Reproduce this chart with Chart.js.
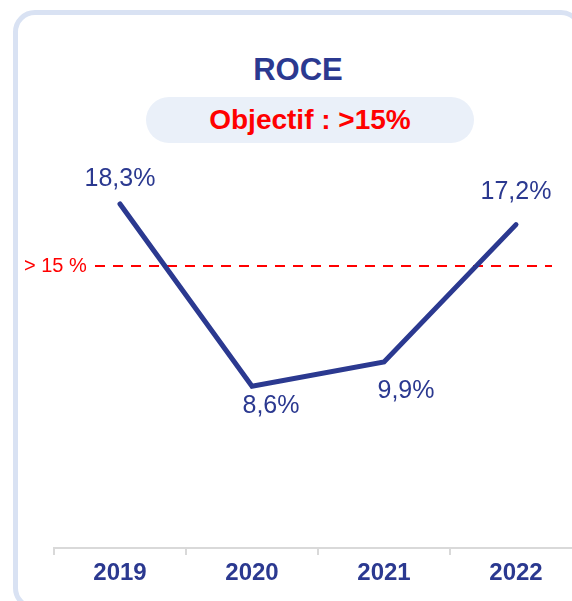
<!DOCTYPE html>
<html>
<head>
<meta charset="utf-8">
<script src="https://cdn.jsdelivr.net/npm/chart.js@4.4.0/dist/chart.umd.min.js"></script>
<style>
  html, body { margin:0; padding:0; background:#fff; }
  body { width:572px; height:601px; overflow:hidden; position:relative; font-family:"Liberation Sans", Arial, sans-serif; }
  #card {
    position:absolute; left:13px; top:10px; width:570px; height:600px;
    border:5px solid #d9e2f3; border-radius:22px; box-sizing:border-box;
  }
  #title {
    position:absolute; left:298px; top:52px; transform:translateX(-50%);
    font-weight:bold; font-size:31px; line-height:36px; color:#2b3990; white-space:nowrap;
  }
  #goal {
    position:absolute; left:146px; top:97px; width:328px; height:46px; border-radius:23px;
    background:#eaf0f9; color:#ff0000; font-weight:bold; font-size:28px; line-height:46px; text-align:center;
  }
  #chart { position:absolute; left:0; top:0; }
</style>
</head>
<body>
<div id="card"></div>
<div id="title">ROCE</div>
<div id="goal">Objectif : &gt;15%</div>
<canvas id="chart" width="600" height="601"></canvas>

<script>
// ================= DATA =================
const years = ["2019", "2020", "2021", "2022"];
const roce = [18.3, 8.6, 9.9, 17.2];
const roceLabels = ["18,3%", "8,6%", "9,9%", "17,2%"];
const target = 15;
const targetLabel = "> 15 %";

const blue = "#2b3990";
const red = "#ff0000";

// label offsets from each point (x, y)
const labelShift = [[0, -25], [19, 20], [22, 29], [0, -33]];

// ================= PLUGINS =================
const targetLine = {
  id: "targetLine",
  beforeDatasetsDraw(chart){
    const ctx = chart.ctx;
    const y = chart.scales.y.getPixelForValue(target);
    ctx.save();
    ctx.strokeStyle = red;
    ctx.lineWidth = 2;
    ctx.setLineDash([10, 8]);
    ctx.beginPath();
    ctx.moveTo(95, y);
    ctx.lineTo(552, y);
    ctx.stroke();
    ctx.setLineDash([]);
    ctx.fillStyle = red;
    ctx.font = "20px 'Liberation Sans', Arial, sans-serif";
    ctx.textAlign = "left";
    ctx.textBaseline = "middle";
    ctx.fillText(targetLabel, 24, y);
    ctx.restore();
  }
};

const valueLabels = {
  id: "valueLabels",
  afterDatasetsDraw(chart){
    const ctx = chart.ctx;
    const pts = chart.getDatasetMeta(0).data;
    ctx.save();
    ctx.fillStyle = blue;
    ctx.font = "25px 'Liberation Sans', Arial, sans-serif";
    ctx.textAlign = "center";
    ctx.textBaseline = "middle";
    pts.forEach((p, i) => {
      ctx.fillText(roceLabels[i], p.x + labelShift[i][0], p.y + labelShift[i][1]);
    });
    ctx.restore();
  }
};

// ================= CHART =================
new Chart(document.getElementById("chart"), {
  type: "line",
  data: {
    labels: years,
    datasets: [{
      data: roce,
      borderColor: blue,
      borderWidth: 5,
      borderCapStyle: "round",
      borderJoinStyle: "miter",
      pointRadius: 0,
      tension: 0,
      fill: false
    }]
  },
  options: {
    responsive: false,
    animation: false,
    layout: { padding: { left: 54, right: 18, top: 172, bottom: 0 } },
    plugins: { legend: { display: false }, tooltip: { enabled: false } },
    scales: {
      x: {
        offset: true,
        grid: { display: true, offset: true, drawOnChartArea: false, tickLength: 7, color: "#d9d9d9", lineWidth: 2 },
        border: { display: true, color: "#d9d9d9", width: 2 },
        ticks: { color: blue, font: { family: "'Liberation Sans', Arial, sans-serif", size: 24, weight: "bold" }, padding: 4 },
        afterFit(scale){ scale.height = 53; }
      },
      y: { display: false, min: 0, max: 20 }
    }
  },
  plugins: [targetLine, valueLabels]
});
</script>
</body>
</html>
